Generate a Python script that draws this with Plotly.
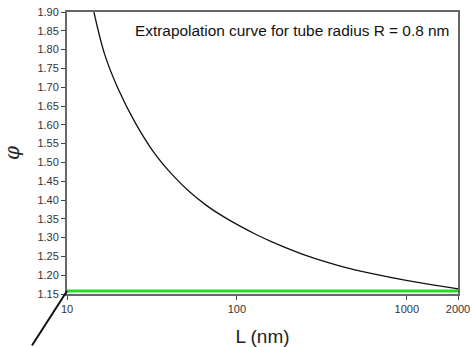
import plotly.graph_objects as go

# Data
L_nm = [14.4, 16.7, 19.9, 25.1, 32.5, 41.9, 52.8, 66.4, 82.4, 103.7, 128.8, 162.0, 256.7, 401, 626, 992, 1848, 2000]
phi = [1.900, 1.786, 1.698, 1.607, 1.526, 1.466, 1.421, 1.385, 1.357, 1.331, 1.309, 1.288, 1.252, 1.225, 1.204, 1.186, 1.166, 1.164]
limit_L = [10, 2000]
limit_phi = [1.158, 1.158]
x_ticks = [10, 100, 1000, 2000]
x_tick_text = ["10", "100", "1000", "2000"]

fig = go.Figure()
fig.add_trace(go.Scatter(x=limit_L, y=limit_phi, mode="lines",
                         line=dict(color="#22dd22", width=3), showlegend=False))
fig.add_trace(go.Scatter(x=L_nm, y=phi, mode="lines", line_shape="spline",
                         line=dict(color="#111111", width=1.3), showlegend=False))

fig.add_annotation(x=1, y=1.158, xref="x", yref="y", text="", showarrow=True,
                   arrowhead=0, arrowwidth=2, arrowcolor="#111111", ax=-36, ay=60,
                   standoff=0)
fig.add_annotation(x=0.982, y=0.933, xref="paper", yref="paper", xanchor="right",
                   yanchor="middle", showarrow=False,
                   text="Extrapolation curve for tube radius R = 0.8 nm",
                   font=dict(family="Liberation Sans, Arial", size=15.4, color="#111111"))

axis_common = dict(showline=True, linecolor="#666666", linewidth=2, mirror=True,
                   ticks="outside", ticklen=4, tickcolor="#444444", showgrid=False,
                   zeroline=False, automargin=False,
                   tickfont=dict(family="Liberation Sans, Arial", size=11, color="#333333"))

fig.update_xaxes(type="log", range=[1, 3.30103], tickvals=x_ticks, ticktext=x_tick_text,
                 title=dict(text="L (nm)", font=dict(family="Liberation Sans, Arial", size=19,
                                                     color="#222222")),
                 **axis_common)
fig.update_yaxes(range=[1.15, 1.90], dtick=0.05, tick0=1.15, tickformat=".2f",
                 title=dict(text="<i>φ</i>", font=dict(family="DejaVu Serif", size=20,
                                                       color="#222222")),
                 **axis_common)

fig.update_layout(width=472, height=347, margin=dict(l=67, r=14, t=12, b=53),
                  paper_bgcolor="white", plot_bgcolor="white")

fig.write_html("out.html", config={"displayModeBar": False},
               post_script="document.body.style.margin='0';document.body.style.overflow='hidden';")
